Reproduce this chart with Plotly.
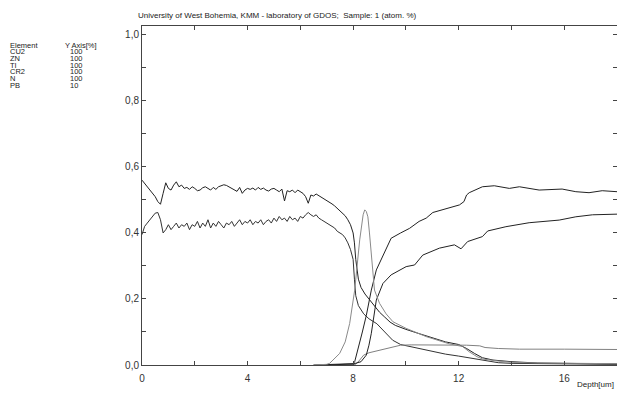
import plotly.graph_objects as go

# ---------------- data ----------------
elements = ["CU2", "ZN", "TI", "CR2", "N", "PB"]
y_axis_pct = ["100", "100", "100", "100", "100", "10"]

x_ticks = [0, 2, 4, 6, 8, 10, 12, 14, 16, 18]
x_ticktext = ["0", "", "4", "", "8", "", "12", "", "16", ""]
y_ticks = [0.0, 0.1, 0.2, 0.3, 0.4, 0.5, 0.6, 0.7, 0.8, 0.9, 1.0]
y_ticktext = ["0,0", "", "0,2", "", "0,4", "", "0,6", "", "0,8", "", "1,0"]

cu2_x = [0.0, 0.1, 0.2, 0.3, 0.4, 0.5, 0.6, 0.7, 0.8, 0.9, 1.0, 1.1, 1.2, 1.3, 1.4, 1.5,
         1.6, 1.7, 1.8, 1.9, 2.0, 2.1, 2.2, 2.3, 2.4, 2.5, 2.6, 2.7, 2.8, 2.9, 3.0, 3.1,
         3.2, 3.3, 3.4, 3.5, 3.6, 3.7, 3.8, 3.9, 4.0, 4.1, 4.2, 4.3, 4.4, 4.5, 4.6, 4.7,
         4.8, 4.9, 5.0, 5.1, 5.2, 5.3, 5.4, 5.5, 5.6, 5.7, 5.8, 5.9, 6.0, 6.1, 6.2, 6.3,
         6.4, 6.5, 6.6, 6.7, 6.8, 6.9, 7.0, 7.1, 7.2, 7.3, 7.4, 7.5, 7.6, 7.7, 7.8, 7.9,
         8.0, 8.05, 8.1, 8.15, 8.2, 8.3, 8.45, 8.6, 8.8, 9.0, 9.2, 9.4, 9.6, 9.8, 10.0,
         10.5, 11.0, 11.5, 12.0, 12.3, 12.6, 12.9, 13.3, 14.0, 15.0, 16.0, 17.0, 18.0]
cu2_y = [0.560, 0.550, 0.540, 0.530, 0.520, 0.510, 0.495, 0.487, 0.520, 0.552, 0.535, 0.530,
         0.545, 0.555, 0.540, 0.545, 0.535, 0.538, 0.532, 0.540, 0.535, 0.528, 0.530, 0.537,
         0.540, 0.535, 0.530, 0.538, 0.532, 0.540, 0.543, 0.546, 0.544, 0.540, 0.535, 0.530,
         0.526, 0.538, 0.520, 0.530, 0.535, 0.532, 0.536, 0.530, 0.538, 0.532, 0.536, 0.530,
         0.527, 0.533, 0.535, 0.530, 0.525, 0.533, 0.497, 0.528, 0.525, 0.530, 0.522, 0.530,
         0.525, 0.520, 0.510, 0.490, 0.515, 0.512, 0.518, 0.513, 0.508, 0.505, 0.500, 0.495,
         0.488, 0.482, 0.475, 0.468, 0.460, 0.452, 0.440, 0.425, 0.400, 0.370, 0.320, 0.280,
         0.260, 0.235, 0.215, 0.200, 0.180, 0.160, 0.145, 0.130, 0.120, 0.115, 0.108, 0.095,
         0.082, 0.070, 0.062, 0.050, 0.035, 0.022, 0.015, 0.010, 0.006, 0.005, 0.004, 0.003]

zn_x = [0.0, 0.1, 0.2, 0.3, 0.4, 0.5, 0.6, 0.7, 0.8, 0.9, 1.0, 1.1, 1.2, 1.3, 1.4, 1.5,
        1.6, 1.7, 1.8, 1.9, 2.0, 2.1, 2.2, 2.3, 2.4, 2.5, 2.6, 2.7, 2.8, 2.9, 3.0, 3.1,
        3.2, 3.3, 3.4, 3.5, 3.6, 3.7, 3.8, 3.9, 4.0, 4.1, 4.2, 4.3, 4.4, 4.5, 4.6, 4.7,
        4.8, 4.9, 5.0, 5.1, 5.2, 5.3, 5.4, 5.5, 5.6, 5.7, 5.8, 5.9, 6.0, 6.1, 6.2, 6.3,
        6.4, 6.5, 6.6, 6.7, 6.8, 6.9, 7.0, 7.1, 7.2, 7.3, 7.4, 7.5, 7.6, 7.7, 7.8, 7.9,
        8.0, 8.05, 8.1, 8.2, 8.4, 8.6, 8.9, 9.2, 9.5, 9.8, 10.2, 10.6, 11.0, 11.5, 12.0,
        12.5, 13.0, 13.5, 14.0, 15.0, 16.0, 18.0]
zn_y = [0.395, 0.420, 0.430, 0.440, 0.450, 0.460, 0.462, 0.440, 0.400, 0.410, 0.425, 0.410,
        0.420, 0.430, 0.415, 0.425, 0.420, 0.430, 0.410, 0.425, 0.420, 0.435, 0.415, 0.430,
        0.420, 0.440, 0.415, 0.430, 0.420, 0.435, 0.425, 0.415, 0.430, 0.425, 0.435, 0.420,
        0.430, 0.440, 0.425, 0.435, 0.430, 0.440, 0.425, 0.435, 0.430, 0.440, 0.425, 0.435,
        0.440, 0.430, 0.445, 0.435, 0.450, 0.440, 0.445, 0.435, 0.450, 0.440, 0.445, 0.435,
        0.450, 0.445, 0.455, 0.462, 0.455, 0.450, 0.455, 0.445, 0.440, 0.435, 0.430, 0.425,
        0.420, 0.415, 0.405, 0.400, 0.395, 0.385, 0.370, 0.350, 0.320, 0.260, 0.210, 0.180,
        0.155, 0.140, 0.125, 0.100, 0.075, 0.062, 0.055, 0.048, 0.040, 0.033, 0.027, 0.020,
        0.012, 0.007, 0.005, 0.004, 0.003, 0.002]

ti_x = [6.5, 7.5, 8.0, 8.06, 8.2, 8.35, 8.5, 8.69, 8.88, 9.13, 9.44, 9.8, 10.14, 10.5,
        10.77, 11.02, 11.27, 11.77, 12.03, 12.2, 12.3, 12.4, 12.9, 13.35, 13.92, 14.3,
        15.05, 15.92, 16.44, 16.94, 17.44, 18.0]
ti_y = [0.000, 0.002, 0.004, 0.010, 0.050, 0.100, 0.150, 0.227, 0.288, 0.333, 0.384, 0.400,
        0.414, 0.435, 0.445, 0.462, 0.468, 0.480, 0.485, 0.495, 0.515, 0.522, 0.540, 0.543,
        0.535, 0.540, 0.530, 0.533, 0.525, 0.522, 0.528, 0.525]

cr2_x = [7.5, 8.1, 8.25, 8.4, 8.6, 9.0, 9.5, 9.8, 10.2, 11.0, 11.8, 12.3, 12.8, 13.0,
         13.5, 14.3, 16.0, 18.0]
cr2_y = [0.000, 0.002, 0.015, 0.030, 0.037, 0.045, 0.055, 0.060, 0.061, 0.061, 0.061, 0.060,
         0.058, 0.053, 0.050, 0.048, 0.048, 0.047]

n_x = [7.0, 8.0, 8.3, 8.5, 8.6, 8.69, 8.88, 9.13, 9.44, 10.01, 10.33, 10.64, 11.27, 11.84,
       12.09, 12.34, 12.9, 13.1, 13.79, 14.67, 15.81, 16.44, 17.07, 18.0]
n_y = [0.000, 0.003, 0.010, 0.030, 0.060, 0.096, 0.197, 0.247, 0.273, 0.298, 0.303, 0.333,
       0.354, 0.364, 0.352, 0.374, 0.389, 0.406, 0.419, 0.431, 0.439, 0.449, 0.455, 0.457]

pb_x = [6.5, 7.0, 7.11, 7.3, 7.49, 7.7, 7.87, 8.06, 8.25, 8.38, 8.44, 8.5, 8.56, 8.62,
        8.69, 8.75, 8.81, 9.0, 9.25, 9.51, 10.01, 10.77, 11.2, 11.65, 12.15, 12.4, 12.7,
        12.91, 13.5, 14.04, 15.0, 17.3, 18.0]
pb_y = [0.000, 0.002, 0.005, 0.020, 0.035, 0.070, 0.126, 0.227, 0.379, 0.455, 0.470, 0.465,
        0.449, 0.400, 0.328, 0.270, 0.227, 0.187, 0.155, 0.131, 0.111, 0.086, 0.075, 0.064,
        0.056, 0.040, 0.025, 0.018, 0.012, 0.008, 0.006, 0.004, 0.004]

series = [
    ("CU2", cu2_x, cu2_y, "#222222"),
    ("ZN", zn_x, zn_y, "#333333"),
    ("TI", ti_x, ti_y, "#222222"),
    ("CR2", cr2_x, cr2_y, "#808080"),
    ("N", n_x, n_y, "#222222"),
    ("PB", pb_x, pb_y, "#8a8a8a"),
]

# ---------------- figure ----------------
FONT = "Arial, Liberation Sans, sans-serif"
fig = go.Figure()
for name, xs, ys, col in series:
    fig.add_trace(go.Scatter(x=xs, y=ys, mode="lines", name=name,
                             line=dict(color=col, width=1), showlegend=False))

W, H = 617, 394
L, R, T, B = 142, 0, 26, 29
plot_h = H - T - B

axis_common = dict(showline=True, linecolor="#444444", linewidth=1, mirror="ticks",
                   ticks="inside", ticklen=4, tickcolor="#444444", showgrid=False,
                   zeroline=False, tickfont=dict(family=FONT, size=10, color="#333333"))
fig.update_xaxes(range=[0, 18], tickmode="array", tickvals=x_ticks, ticktext=x_ticktext,
                 ticklabelstandoff=4, **axis_common)
fig.update_yaxes(range=[0, 1.027], tickmode="array", tickvals=y_ticks, ticktext=y_ticktext,
                 **axis_common)

def px_to_paper_x(px):
    return (px - L) / (W - L - R)

def py_to_paper_y(py):
    return (H - B - py) / plot_h

SMALL = 7.5
ann = []
ann.append(dict(text="University of West Bohemia, KMM - laboratory of GDOS;  Sample: 1 (atom. %)",
                x=px_to_paper_x(277), y=py_to_paper_y(15.5), xref="paper", yref="paper",
                xanchor="center", yanchor="middle", showarrow=False,
                font=dict(family=FONT, size=8, color="#222222")))
ann.append(dict(text="Depth[um]", x=px_to_paper_x(616), y=py_to_paper_y(384),
                xref="paper", yref="paper", xanchor="right", yanchor="middle",
                showarrow=False, font=dict(family=FONT, size=8, color="#222222")))
ann.append(dict(text="Element", x=px_to_paper_x(8), y=py_to_paper_y(45), xref="paper",
                yref="paper", xanchor="left", yanchor="middle", showarrow=False,
                font=dict(family=FONT, size=SMALL, color="#222222")))
ann.append(dict(text="Y Axis[%]", x=px_to_paper_x(63), y=py_to_paper_y(45), xref="paper",
                yref="paper", xanchor="left", yanchor="middle", showarrow=False,
                font=dict(family=FONT, size=SMALL, color="#222222")))
for i, (el, pct) in enumerate(zip(elements, y_axis_pct)):
    yy = 52 + i * 6.6
    ann.append(dict(text=el, x=px_to_paper_x(8), y=py_to_paper_y(yy), xref="paper",
                    yref="paper", xanchor="left", yanchor="middle", showarrow=False,
                    font=dict(family=FONT, size=SMALL, color="#222222")))
    ann.append(dict(text=pct, x=px_to_paper_x(68), y=py_to_paper_y(yy), xref="paper",
                    yref="paper", xanchor="left", yanchor="middle", showarrow=False,
                    font=dict(family=FONT, size=SMALL, color="#222222")))

fig.update_layout(width=W, height=H, margin=dict(l=L, r=R, t=T, b=B, pad=0),
                  paper_bgcolor="white", plot_bgcolor="white", annotations=ann,
                  font=dict(family=FONT, size=10, color="#222222"))

fig.write_html("out.html", config={"displayModeBar": False})
